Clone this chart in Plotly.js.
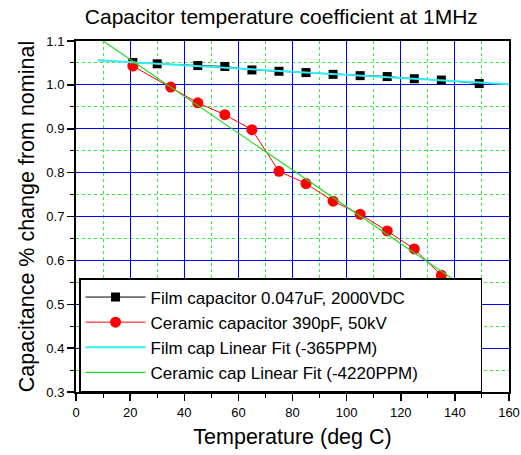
<!DOCTYPE html>
<html>
<head>
<meta charset="utf-8">
<script src="https://cdn.plot.ly/plotly-3.0.1.min.js"></script>
<style>html,body{margin:0;padding:0;background:#fff;}#chart{width:521px;height:455px;}</style>
</head>
<body>
<div id="chart"></div>
<script>
// Film capacitor data
const filmX = [21, 30, 45, 55, 65, 75, 85, 95, 105, 115, 125, 135, 149];
const filmY = [1.051, 1.048, 1.044, 1.042, 1.034, 1.031, 1.028, 1.024, 1.021, 1.019, 1.014, 1.011, 1.003];
// Ceramic capacitor data
const ceramicX = [21, 35, 45, 55, 65, 75, 85, 95, 105, 115, 125, 135];
const ceramicY = [1.043, 0.995, 0.959, 0.932, 0.898, 0.803, 0.775, 0.735, 0.705, 0.667, 0.626, 0.566];
// Linear fit line endpoints
const filmFitX = [8, 160];
const filmFitY = [1.056, 1.0015];
const ceramicFitX = [10, 146];
const ceramicFitY = [1.1, 0.529];
// Axis ticks
const xTickStart = 0, xTickStep = 20;
const yTickStart = 0.3, yTickStep = 0.1;
// Series names
const seriesNames = ['Film capacitor 0.047uF, 2000VDC', 'Ceramic capacitor 390pF, 50kV',
                     'Film cap Linear Fit (-365PPM)', 'Ceramic cap Linear Fit (-4220PPM)'];

const FONT = 'Arial, "Liberation Sans", sans-serif';
const PAD = '\u00a0'.repeat(12); // widens the legend box to match the reference

const traces = [
  {x: filmX, y: filmY, name: seriesNames[0], mode: 'lines+markers',
   line: {color: '#000000', width: 1}, marker: {symbol: 'square', size: 9, color: '#000000'}},
  {x: ceramicX, y: ceramicY, name: seriesNames[1], mode: 'lines+markers',
   line: {color: '#ff0000', width: 1}, marker: {symbol: 'circle', size: 11, color: '#ff0000'}},
  {x: filmFitX, y: filmFitY, name: seriesNames[2], mode: 'lines',
   line: {color: '#33eef5', width: 2}},
  {x: ceramicFitX, y: ceramicFitY, name: seriesNames[3] + PAD, mode: 'lines',
   line: {color: '#22dd22', width: 1.2}}
];

const axisCommon = {
  showline: true, linecolor: '#000', linewidth: 2, mirror: true,
  ticks: 'outside', ticklen: 7, tickwidth: 1.5, tickcolor: '#000',
  showgrid: true, gridcolor: '#0000ff', gridwidth: 1,
  zeroline: false,
  tickfont: {family: FONT, size: 13, color: '#000'}
};
const minorCommon = {ticks: 'outside', ticklen: 4, tickwidth: 1, tickcolor: '#000',
  showgrid: true, gridcolor: '#33ee33', gridwidth: 1, griddash: 'dot'};

const layout = {
  width: 521, height: 455,
  margin: {l: 76, r: 12, t: 41, b: 63},
  paper_bgcolor: '#fff', plot_bgcolor: '#fff',
  font: {family: FONT, color: '#000'},
  title: {text: 'Capacitor temperature coefficient at 1MHz', font: {family: FONT, size: 21, color: '#000'},
          x: 0.54, xanchor: 'center', y: 0.964, yanchor: 'middle'},
  xaxis: Object.assign({}, axisCommon, {
    range: [0, 160], tickmode: 'linear', tick0: xTickStart, dtick: xTickStep,
    minor: Object.assign({}, minorCommon, {dtick: xTickStep / 2, tick0: xTickStart}),
    title: {text: 'Temperature (deg C)', font: {family: FONT, size: 21.5, color: '#000'}, standoff: 10}
  }),
  yaxis: Object.assign({}, axisCommon, {
    range: [0.3, 1.1], tickmode: 'linear', tick0: yTickStart, dtick: yTickStep, tickformat: '.1f',
    minor: Object.assign({}, minorCommon, {dtick: yTickStep / 2, tick0: yTickStart}),
    title: {text: 'Capacitance % change from nominal', font: {family: FONT, size: 21.5, color: '#000'}, standoff: 6}
  }),
  legend: {x: 0.007, y: 0, xanchor: 'left', yanchor: 'bottom',
           bgcolor: '#fff', bordercolor: '#000', borderwidth: 1.5,
           font: {family: FONT, size: 17, color: '#000'}, itemwidth: 60,
           tracegroupgap: 0},
  showlegend: true
};

Plotly.newPlot('chart', traces, layout, {displayModeBar: false, staticPlot: true});
</script>
</body>
</html>
